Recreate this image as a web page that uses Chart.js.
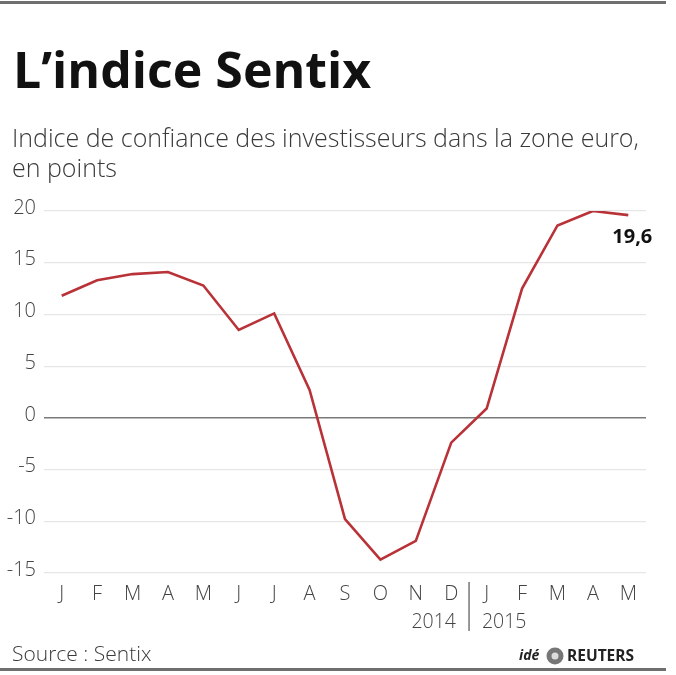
<!DOCTYPE html>
<html>
<head>
<meta charset="utf-8">
<script src="https://cdn.jsdelivr.net/npm/chart.js@4.4.1/dist/chart.umd.min.js"></script>
<style>
  html, body { margin: 0; padding: 0; background: #fff; }
  #wrap { position: relative; width: 676px; height: 675px; }
</style>
</head>
<body>
<div id="wrap"><canvas id="chart" width="676" height="675"></canvas></div>
<script>
const months = ["J", "F", "M", "A", "M", "J", "J", "A", "S", "O", "N", "D", "J", "F", "M", "A", "M"];
const sentix = [11.8, 13.3, 13.9, 14.1, 12.8, 8.5, 10.1, 2.7, -9.8, -13.7, -11.9, -2.4, 0.9, 12.5, 18.6, 20.0, 19.6];
const yearLabels = ["2014", "2015"];
const yTicks = [-15, -10, -5, 0, 5, 10, 15, 20];

const title = "L\u2019indice Sentix";
const subtitle = ["Indice de confiance des investisseurs dans la zone euro,", "en points"];
const source = "Source : Sentix";
const lastLabel = "19,6";

const FONT = "'Open Sans', 'Noto Sans', sans-serif";

const decor = {
  id: "decor",
  afterDraw(chart) {
    const ctx = chart.ctx;
    const x = chart.scales.x;
    ctx.save();

    // frame lines
    ctx.fillStyle = "#6f6f6f";
    ctx.fillRect(0, 1, 666, 3);
    ctx.fillRect(0, 668, 666, 3);

    // title and subtitle
    ctx.fillStyle = "#111";
    ctx.textBaseline = "alphabetic";
    ctx.textAlign = "left";
    ctx.font = "bold 50px " + FONT;
    ctx.fillText(title, 13, 88);
    ctx.fillStyle = "#3a3a3a";
    ctx.font = "300 25px " + FONT;
    ctx.fillText(subtitle[0], 12, 147);
    ctx.fillText(subtitle[1], 12, 177);

    // years and separator
    const dx = x.getPixelForValue(11);
    const jx = x.getPixelForValue(12);
    const sep = (dx + jx) / 2;
    ctx.fillStyle = "#555";
    ctx.fillRect(sep - 0.5, 582, 1.2, 49);
    ctx.font = "300 19.5px " + FONT;
    ctx.fillStyle = "#444";
    ctx.textBaseline = "middle";
    ctx.textAlign = "right";
    ctx.fillText(yearLabels[0], sep - 13, 622);
    ctx.textAlign = "left";
    ctx.fillText(yearLabels[1], sep + 13, 622);

    // last value label
    const pt = chart.getDatasetMeta(0).data[sentix.length - 1];
    ctx.font = "bold 20px " + FONT;
    ctx.fillStyle = "#111";
    ctx.textAlign = "left";
    ctx.fillText(lastLabel, pt.x - 16, pt.y + 22);

    // source
    ctx.font = "300 21px " + FONT;
    ctx.fillStyle = "#3a3a3a";
    ctx.fillText(source, 12, 655);

    // logo
    ctx.font = "italic bold 14px " + FONT;
    ctx.fillStyle = "#222";
    ctx.fillText("id\u00e9", 519, 656);
    ctx.beginPath();
    ctx.arc(555, 656, 8.5, 0, Math.PI * 2);
    ctx.fillStyle = "#777";
    ctx.fill();
    ctx.beginPath();
    ctx.arc(555, 656, 3.5, 0, Math.PI * 2);
    ctx.fillStyle = "#ddd";
    ctx.fill();
    ctx.font = "bold 15.5px " + FONT;
    ctx.fillStyle = "#222";
    ctx.fillText("REUTERS", 567, 657);

    ctx.restore();
  }
};

new Chart(document.getElementById("chart").getContext("2d"), {
  type: "line",
  data: {
    labels: months,
    datasets: [{
      data: sentix,
      borderColor: "#b83238",
      borderWidth: 2.6,
      pointRadius: 0,
      tension: 0,
      fill: false
    }]
  },
  options: {
    responsive: false,
    animation: false,
    events: [],
    layout: { padding: { left: 0, right: 30, top: 211, bottom: 0 } },
    plugins: { legend: { display: false }, tooltip: { enabled: false } },
    scales: {
      x: {
        offset: true,
        grid: { display: false, drawTicks: false },
        border: { display: false },
        ticks: {
          color: "#444",
          font: { family: FONT, size: 20, weight: "300" },
          padding: 9,
          maxRotation: 0,
          autoSkip: false
        },
        afterFit(scale) { scale.height = 102; }
      },
      y: {
        min: -15,
        max: 20,
        afterBuildTicks(scale) { scale.ticks = yTicks.map(v => ({ value: v })); },
        grid: {
          drawTicks: false,
          color: ctx => ctx.tick && ctx.tick.value === 0 ? "#7a7a7a" : "#e6e6e6",
          lineWidth: ctx => ctx.tick && ctx.tick.value === 0 ? 1.4 : 1.2
        },
        border: { display: false },
        ticks: {
          color: "#444",
          font: { family: FONT, size: 20, weight: "300" },
          padding: 8,
          labelOffset: -3
        },
        afterFit(scale) { scale.width = 44; }
      }
    }
  },
  plugins: [decor]
});
</script>
</body>
</html>
